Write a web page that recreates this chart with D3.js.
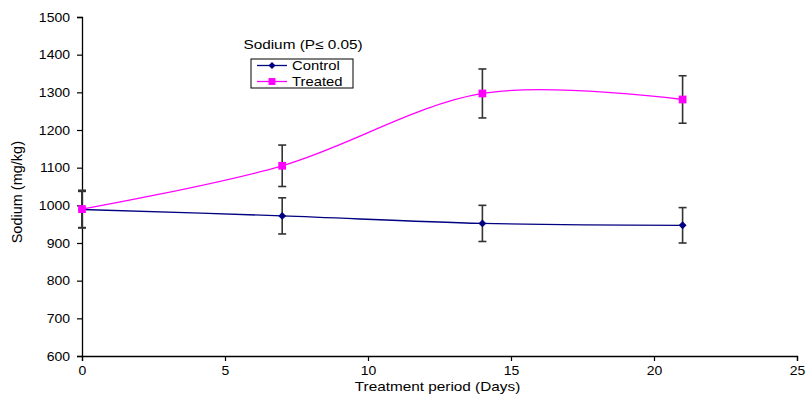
<!DOCTYPE html>
<html>
<head>
<meta charset="utf-8">
<script src="https://cdn.jsdelivr.net/npm/d3@7"></script>
<style>
  body { margin:0; background:#fff; }
  text { font-family: "Liberation Sans", Arial, sans-serif; }
</style>
</head>
<body>
<script>
const days = [0, 7, 14, 21]
const controlMean = [989, 972, 952, 947]
const controlErr = [48, 48, 48, 47]
const treatedMean = [990, 1105, 1297, 1281]
const treatedErr = [50, 55, 65, 63]
const xTicks = [0, 5, 10, 15, 20, 25]
const yTicks = [600, 700, 800, 900, 1000, 1100, 1200, 1300, 1400, 1500]

const width = 806, height = 394
const margin = {top:17, right:9, bottom:38, left:82}
const sx = 1.18 // reference text is drawn a bit wider than Liberation Sans

const svg = d3.select("body").append("svg")
  .attr("width", width)
  .attr("height", height)

const x = d3.scaleLinear().domain([0, 25]).range([margin.left, width - margin.right])
const y = d3.scaleLinear().domain([600, 1500]).range([height - margin.bottom, margin.top])

// stretched text helper
const wideText = (px, py, str, size, anchor) =>
  svg.append("text")
    .attr("transform", `translate(${px},${py}) scale(${sx},1)`)
    .attr("text-anchor", anchor || "start")
    .attr("font-size", size)
    .text(str)

// axes
const yAxis = svg.append("g")
  .attr("transform", `translate(${margin.left},0)`)
  .call(d3.axisLeft(y).tickValues(yTicks).tickSize(5).tickPadding(7).tickFormat(d3.format("d")))
const xAxis = svg.append("g")
  .attr("transform", `translate(0,${y(600)})`)
  .call(d3.axisBottom(x).tickValues(xTicks).tickSize(5).tickPadding(5))

for (const ax of [xAxis, yAxis]) {
  ax.select(".domain").attr("stroke", "#000").attr("stroke-width", 1.3)
  ax.selectAll(".tick line").attr("stroke", "#000").attr("stroke-width", 1.2)
  ax.selectAll("text").attr("font-size", 12.5).attr("fill", "#000")
    .style("font-family", "'Liberation Sans', Arial, sans-serif")
}
yAxis.selectAll(".tick text").attr("x", -12 / 1.12).attr("transform", "scale(1.12,1)")
xAxis.selectAll(".tick text").attr("transform", "scale(1.12,1)")
  .attr("x", 0)

// axis titles
wideText(x(12.5) - 2, 391, "Treatment period (Days)", 13, "middle")

svg.append("text")
  .attr("transform", `translate(22,${y(1035)}) rotate(-90)`)
  .attr("text-anchor", "middle")
  .attr("font-size", 14.5)
  .style("font-family", "'Liberation Sans Narrow', 'Liberation Sans', sans-serif")
  .text("Sodium (mg/kg)")

const series = [
  {name:"Control", mean:controlMean, err:controlErr, color:"#000080", marker:d3.symbolDiamond2, size:40},
  {name:"Treated", mean:treatedMean, err:treatedErr, color:"#ff00ff", marker:d3.symbolSquare, size:60}
]

const line = d3.line()
  .x(d => x(d[0]))
  .y(d => y(d[1]))
  .curve(d3.curveCardinal.tension(0))

series.forEach(s => {
  const pts = days.map((d, i) => [d, s.mean[i], s.err[i]])
  svg.append("path")
    .datum(pts)
    .attr("d", line)
    .attr("fill", "none")
    .attr("stroke", s.color)
    .attr("stroke-width", 1.3)
})

// error bars
series.forEach(s => {
  const pts = days.map((d, i) => [d, s.mean[i], s.err[i]])
  const g = svg.append("g").attr("stroke", "#333").attr("stroke-width", 1.6)
  g.selectAll("line.bar")
    .data(pts).enter().append("line")
    .attr("x1", d => x(d[0])).attr("x2", d => x(d[0]))
    .attr("y1", d => y(d[1] - d[2])).attr("y2", d => y(d[1] + d[2]))
  g.selectAll("line.top")
    .data(pts).enter().append("line")
    .attr("x1", d => x(d[0]) - 4).attr("x2", d => x(d[0]) + 4)
    .attr("y1", d => y(d[1] + d[2])).attr("y2", d => y(d[1] + d[2]))
  g.selectAll("line.bot")
    .data(pts).enter().append("line")
    .attr("x1", d => x(d[0]) - 4).attr("x2", d => x(d[0]) + 4)
    .attr("y1", d => y(d[1] - d[2])).attr("y2", d => y(d[1] - d[2]))
})

series.forEach(s => {
  const pts = days.map((d, i) => [d, s.mean[i]])
  svg.append("g").selectAll("path")
    .data(pts).enter().append("path")
    .attr("transform", d => `translate(${x(d[0])},${y(d[1])})`)
    .attr("d", d3.symbol().type(s.marker).size(s.size))
    .attr("fill", s.color)
})

// title
wideText(303, 48.5, "Sodium (P\u2264 0.05)", 13, "middle")

// legend
const legend = svg.append("g").attr("transform", "translate(251,59)")
legend.append("rect")
  .attr("width", 102).attr("height", 29)
  .attr("fill", "#fff").attr("stroke", "#000").attr("stroke-width", 1)

series.forEach((s, i) => {
  const cy = 6.5 + i * 16
  legend.append("line")
    .attr("x1", 6).attr("x2", 36).attr("y1", cy).attr("y2", cy)
    .attr("stroke", s.color).attr("stroke-width", 1.3)
  legend.append("path")
    .attr("transform", `translate(21,${cy})`)
    .attr("d", d3.symbol().type(s.marker).size(s.size * 0.8))
    .attr("fill", s.color)
  legend.append("text")
    .attr("transform", `translate(41,${cy + 4.5}) scale(1.14,1)`)
    .attr("font-size", 13)
    .text(s.name)
})
</script>
</body>
</html>
